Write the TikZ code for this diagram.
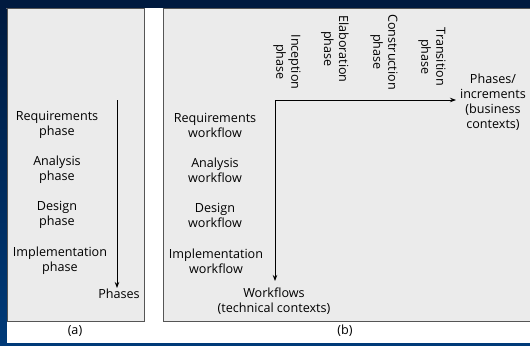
\documentclass[tikz,border=0pt]{standalone}
\usepackage{fontspec}
\setmainfont{Open Sans}
\usetikzlibrary{arrows.meta}
\definecolor{navy}{HTML}{001A3F}
\definecolor{deepblue}{HTML}{003A78}
\definecolor{panelgray}{HTML}{EBEBEB}
\definecolor{framegray}{HTML}{555555}
\begin{document}
\begin{tikzpicture}[
  x=1pt, y=-1pt,
  panel/.style = {draw=framegray, fill=panelgray, line width=0.9pt},
  label/.style = {align=center, font=\fontsize{12.6}{15}\selectfont, inner sep=0pt},
  vlabel/.style = {label, rotate=-90},
  axis/.style = {line width=0.9pt, -{Stealth[length=6pt,width=4.5pt]}}]
  % frame
  \useasboundingbox (0,0) rectangle (530,346);
  \fill[white] (0,0) rectangle (530,346);
  \fill[navy] (0,0) rectangle (530,8);
  \fill[deepblue] (0,343) rectangle (530,346);
  \shade[top color=navy, bottom color=deepblue] (0,8) rectangle (6.5,343);
  \draw[panel] (7,8) rectangle (144,321);
  \draw[panel] (163,8) rectangle (535,321);
  % (a) phases
  \node[label] (req a) at (57,125) {Requirements\\phase};
  \node[label] (ana a) at (57,170) {Analysis\\phase};
  \node[label] (des a) at (57,215) {Design\\phase};
  \node[label] (imp a) at (60,261) {Implementation\\phase};
  \node[label] (phases a) at (119,294) {Phases};
  \coordinate (top a) at (117,100);
  \coordinate (end a) at (117,288);
  \draw[axis] (top a) -- (end a);
  \node[label] (cap a) at (75,331) {(a)};
  % (b) workflows and phases
  \node[label] (req b) at (215,125) {Requirements\\workflow};
  \node[label] (ana b) at (215,170) {Analysis\\workflow};
  \node[label] (des b) at (215,215) {Design\\workflow};
  \node[label] (imp b) at (216,261) {Implementation\\workflow};
  \node[label] (wf b) at (274,301) {Workflows\\(technical contexts)};
  \node[label] (ph b) at (493,102) {Phases/\\increments\\(business\\contexts)};
  \node[vlabel] (inc) at (287,62) {Inception\\phase};
  \node[vlabel] (ela) at (335,49) {Elaboration\\phase};
  \node[vlabel] (con) at (384,52) {Construction\\phase};
  \node[vlabel] (tra) at (432,57) {Transition\\phase};
  \coordinate (origin) at (275,100);
  \coordinate (end wf) at (275,281);
  \coordinate (end ph) at (456,100);
  \draw[axis] (origin) -- (end wf);
  \draw[axis] (origin) -- (end ph);
  \node[label] (cap b) at (345,331) {(b)};
\end{tikzpicture}
\end{document}
